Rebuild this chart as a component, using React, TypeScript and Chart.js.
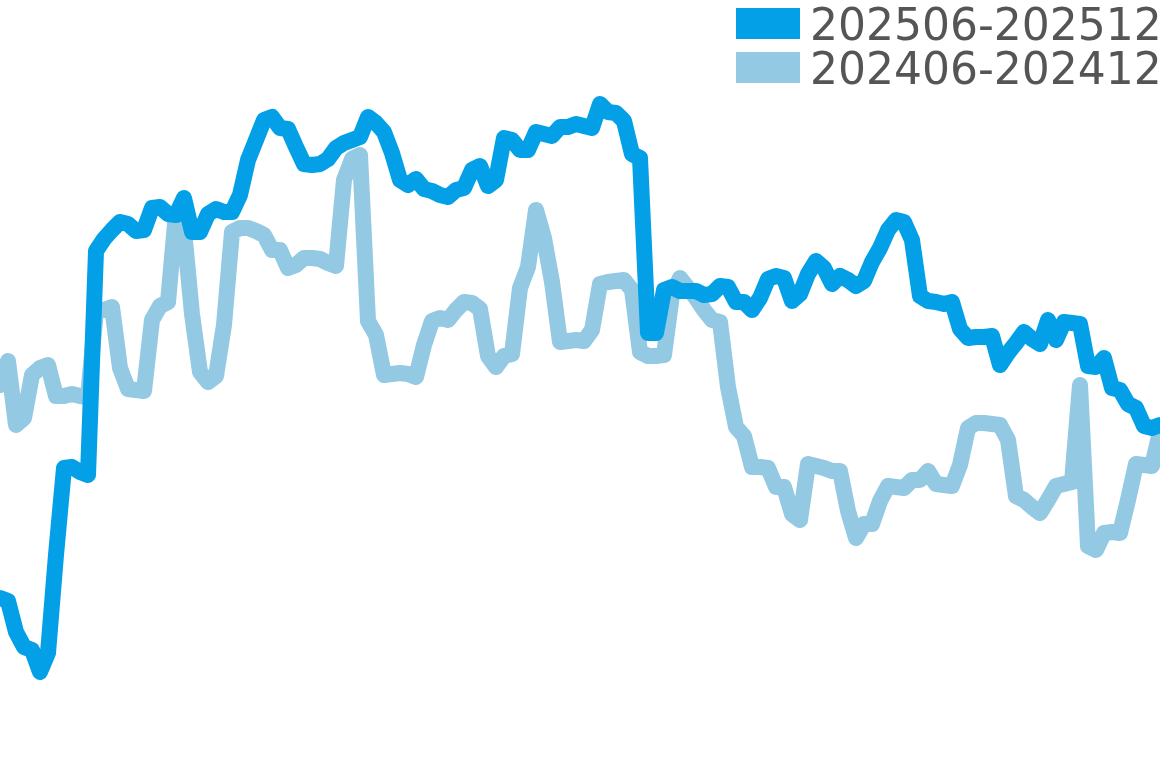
import Chart from 'chart.js/auto';
import { useEffect, useRef } from 'react';

// no axes in the picture: values are in an arbitrary index unit
const series2025 = [
    20.2, 19.9, 16.8, 15.3, 15.0, 12.8, 14.7, 24.5, 33.2, 33.3,
    32.8, 32.5, 54.9, 56.1, 57.0, 57.8, 57.6, 56.9, 57.0, 59.2,
    59.3, 58.6, 58.5, 60.2, 56.8, 56.8, 58.6, 59.1, 58.8, 58.8,
    60.5, 64.0, 66.0, 68.0, 68.3, 67.2, 67.1, 65.3, 63.6, 63.5,
    63.6, 64.1, 65.2, 65.7, 66.0, 66.3, 68.3, 67.7, 66.8, 64.7,
    62.0, 61.5, 62.1, 61.1, 60.9, 60.5, 60.3, 61.0, 61.2, 63.0,
    63.4, 61.4, 62.0, 66.2, 66.0, 65.0, 65.0, 66.8, 66.6, 66.4,
    67.3, 67.3, 67.6, 67.4, 67.2, 69.6, 68.8, 68.7, 67.9, 64.6,
    64.2, 46.7, 46.7, 51.0, 51.3, 50.9, 50.9, 50.9, 50.5, 50.6,
    51.4, 51.3, 49.8, 49.8, 49.0, 50.2, 52.1, 52.4, 52.2, 49.9,
    50.6, 52.6, 53.9, 53.2, 51.6, 52.4, 52.0, 51.4, 51.9, 53.8,
    55.2, 57.0, 58.0, 57.8, 56.0, 50.4, 49.9, 49.8, 49.6, 49.8,
    47.1, 46.2, 46.3, 46.3, 46.4, 43.5, 44.7, 45.7, 46.8, 46.1,
    45.6, 48.0, 46.0, 47.8, 47.7, 47.6, 43.4, 43.3, 44.2, 41.2,
    41.0, 39.6, 39.2, 37.4, 37.2, 37.5,
];

const series2024 = [
    41.5, 43.9, 37.5, 38.2, 42.5, 43.2, 43.5, 40.4, 40.4, 40.6,
    40.4, 40.3, 49.0, 49.0, 49.3, 43.2, 41.1, 41.0, 40.9, 48.0,
    49.4, 49.8, 58.7, 57.0, 48.6, 42.8, 41.8, 42.4, 47.5, 56.8,
    57.2, 57.2, 56.9, 56.5, 55.0, 55.0, 53.2, 53.5, 54.2, 54.2,
    54.1, 53.7, 53.4, 62.0, 64.1, 64.5, 47.9, 46.5, 42.5, 42.6,
    42.7, 42.6, 42.3, 45.5, 47.9, 48.2, 48.0, 49.0, 49.8, 49.7,
    49.1, 44.4, 43.3, 44.4, 44.6, 51.2, 53.3, 59.0, 56.2, 51.8,
    45.8, 45.9, 46.0, 45.9, 47.0, 51.6, 51.8, 51.9, 52.0, 51.0,
    44.8, 44.4, 44.4, 44.5, 50.5, 52.2, 51.2, 50.2, 49.0, 48.0,
    47.8, 41.3, 37.3, 36.4, 33.3, 33.3, 33.2, 31.3, 31.3, 28.6,
    28.0, 33.6, 33.4, 33.2, 32.9, 32.9, 28.9, 26.2, 27.6, 27.6,
    29.9, 31.4, 31.3, 31.2, 32.0, 32.0, 32.9, 31.6, 31.5, 31.4,
    33.5, 37.2, 37.7, 37.7, 37.6, 37.5, 36.0, 30.4, 30.0, 29.3,
    28.7, 30.0, 31.4, 31.6, 31.8, 41.5, 25.4, 25.0, 26.7, 26.8,
    26.7, 30.0, 33.6, 33.5, 33.4, 36.8,
];

const seriesLabels = ['202506-202512', '202406-202412'];
const seriesColors = ['#03a0e7', '#93c9e3'];
const dayLabels = series2025.map((_, i) => `${i + 1}`);

// legend stacked in the top right corner, drawn over the plot
const cornerLegend = {
    id: 'cornerLegend',
    afterDraw(chart: Chart) {
        const { ctx, width } = chart;
        ctx.save();
        ctx.font = '44px "DejaVu Sans"';
        ctx.textBaseline = 'alphabetic';
        chart.data.datasets.forEach((ds, i) => {
            const top = 8 + i * 44;
            ctx.fillStyle = ds.borderColor as string;
            ctx.fillRect(width - 424, top, 64, 31);
            ctx.fillStyle = '#555555';
            ctx.fillText(ds.label ?? '', width - 350, top + 32);
        });
        ctx.restore();
    },
};

const App = () => {
    const chartRef = useRef<HTMLCanvasElement>(null);

    useEffect(() => {
        document.body.style.margin = '0';
        if (!chartRef.current) return;
        const ctx = chartRef.current.getContext('2d');
        if (!ctx) return;

        const chart = new Chart(ctx, {
            type: 'line',
            data: {
                labels: dayLabels,
                datasets: [
                    {
                        label: seriesLabels[0],
                        data: series2025,
                        borderColor: seriesColors[0],
                        backgroundColor: seriesColors[0],
                        borderWidth: 16,
                        borderJoinStyle: 'round',
                        borderCapStyle: 'round',
                        pointRadius: 0,
                        tension: 0,
                        fill: false,
                    },
                    {
                        label: seriesLabels[1],
                        data: series2024,
                        borderColor: seriesColors[1],
                        backgroundColor: seriesColors[1],
                        borderWidth: 16,
                        borderJoinStyle: 'round',
                        borderCapStyle: 'round',
                        pointRadius: 0,
                        tension: 0,
                        fill: false,
                    },
                ],
            },
            options: {
                animation: false,
                responsive: true,
                maintainAspectRatio: false,
                layout: { padding: 0 },
                plugins: {
                    legend: { display: false },
                    tooltip: { enabled: false },
                },
                scales: {
                    x: { display: false, offset: false },
                    y: { display: false, min: 3.2, max: 80 },
                },
            },
            plugins: [cornerLegend],
        });

        return () => {
            chart.destroy();
        };
    }, []);

    return (
        <div style={{ width: 1160, height: 768, position: 'relative' }}>
            <canvas ref={chartRef}></canvas>
        </div>
    );
};

export default App;
